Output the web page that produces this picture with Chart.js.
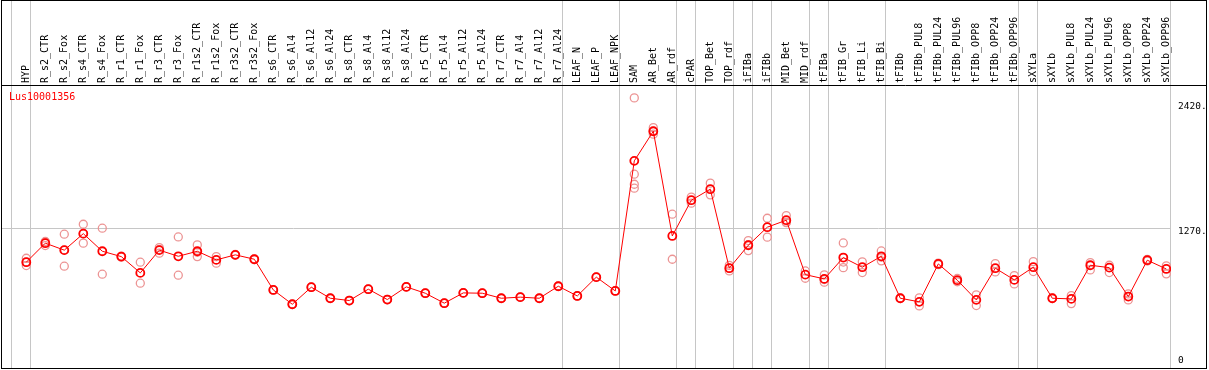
<!DOCTYPE html>
<html lang="en">
<head>
<meta charset="UTF-8" />
<title>Lus10001356</title>
<script src="https://cdn.jsdelivr.net/npm/chart.js"></script>
<style>
    html, body { margin: 0; padding: 0; background: #fff; }
    #chartContainer { width: 1209px; height: 370px; }
</style>
</head>
<body>

<div id="chartContainer">
    <canvas id="myChart" width="1209" height="370"></canvas>
</div>

<script>
    // gene id shown in the corner
    const title = 'Lus10001356';

    const categories = [
        'HYP', 'R_s2_CTR', 'R_s2_Fox', 'R_s4_CTR', 'R_s4_Fox', 'R_r1_CTR', 'R_r1_Fox',
        'R_r3_CTR', 'R_r3_Fox', 'R_r1s2_CTR', 'R_r1s2_Fox', 'R_r3s2_CTR', 'R_r3s2_Fox',
        'R_s6_CTR', 'R_s6_Al4', 'R_s6_Al12', 'R_s6_Al24', 'R_s8_CTR', 'R_s8_Al4',
        'R_s8_Al12', 'R_s8_Al24', 'R_r5_CTR', 'R_r5_Al4', 'R_r5_Al12', 'R_r5_Al24',
        'R_r7_CTR', 'R_r7_Al4', 'R_r7_Al12', 'R_r7_Al24', 'LEAF_N', 'LEAF_P', 'LEAF_NPK',
        'SAM', 'AR_Bet', 'AR_rdf', 'cPAR', 'TOP_Bet', 'TOP_rdf', 'iFIBa', 'iFIBb',
        'MID_Bet', 'MID_rdf', 'tFIBa', 'tFIB_Gr', 'tFIB_Li', 'tFIB_Bi', 'tFIBb',
        'tFIBb_PUL8', 'tFIBb_PUL24', 'tFIBb_PUL96', 'tFIBb_OPP8', 'tFIBb_OPP24', 'tFIBb_OPP96',
        'sXYLa', 'sXYLb', 'sXYLb_PUL8', 'sXYLb_PUL24', 'sXYLb_PUL96', 'sXYLb_OPP8',
        'sXYLb_OPP24', 'sXYLb_OPP96'
    ];

    // mean expression per sample (the connected line)
    const means = [
        959, 1133, 1069, 1220, 1059, 1010, 861, 1069, 1013, 1059, 980, 1026, 986,
        705, 574, 730, 629, 608, 712, 617, 733, 675, 584, 678,
        675, 629, 639, 629, 739, 650, 822, 696,
        1886, 2157, 1199, 1526, 1627, 904, 1114, 1279, 1343, 845, 806, 1001, 913, 1013,
        629, 596, 943, 794, 614, 904, 797, 913, 629, 623, 931, 909, 644, 977, 897
    ];

    // individual replicates (light circles)
    const replicates = [
        [995, 928, 960], [1140, 1111, 1148], [1215, 922, 1070], [1306, 1133, 1220],
        [1270, 849], [1015, 1005], [959, 767], [1092, 1041, 1074], [1190, 840],
        [1117, 1010, 1050], [1010, 950], [1030, 1022], [990, 982],
        [707, 703], [576, 572], [732, 728], [631, 627], [610, 606], [714, 710],
        [619, 615], [735, 731], [677, 673], [586, 582], [680, 676],
        [677, 673], [631, 627], [641, 637], [631, 627], [741, 737], [652, 648],
        [824, 820], [698, 694],
        [2462, 1764, 1672, 1636], [2190, 2130, 2157], [1398, 986], [1554, 1499],
        [1682, 1575], [879, 904, 930], [1157, 1065, 1120], [1361, 1188],
        [1385, 1325, 1320], [879, 812], [843, 776, 800], [1135, 909, 960],
        [962, 864], [1062, 971, 1005], [632, 626], [559, 633], [950, 936],
        [810, 780], [660, 562], [946, 870], [836, 760], [964, 873], [632, 626],
        [653, 580], [955, 888], [931, 864], [669, 614], [985, 970], [925, 852]
    ];

    // group separators sit just after these category indices
    const separatorsAfter = [-1, 0, 28, 31, 34, 35, 37, 38, 39, 41, 42, 45, 52, 53, 60];

    const yTicks = [0, 1270, 2420];
    const yLabels = ['0', '1270.', '2420.'];
    const yMax = 2580;

    const MONO = '"DejaVu Sans Mono", "Liberation Mono", monospace';

    // header labels, separators, frame and right-hand value labels
    const framePlugin = {
        id: 'frame',
        beforeDraw(chart) {
            const c = chart.ctx;
            c.save();
            c.fillStyle = '#ffffff';
            c.fillRect(0, 0, chart.width, chart.height);
            c.restore();
        },
        beforeDatasetsDraw(chart) {
            const c = chart.ctx;
            const x = chart.scales.x;
            const y = chart.scales.y;
            c.save();

            c.strokeStyle = '#c6c6c6';
            c.lineWidth = 1;
            separatorsAfter.forEach(i => {
                const px = Math.round(x.getPixelForValue(i + 0.22)) + 0.5;
                c.beginPath();
                c.moveTo(px, 1);
                c.lineTo(px, 368);
                c.stroke();
            });

            c.fillStyle = '#000000';
            c.font = '10px ' + MONO;
            c.textAlign = 'left';
            c.textBaseline = 'middle';
            categories.forEach((name, i) => {
                c.save();
                c.translate(x.getPixelForValue(i), 83);
                c.rotate(-Math.PI / 2);
                c.fillText(name, 0, 0);
                c.restore();
            });

            c.fillStyle = '#ff0000';
            c.font = '10px ' + MONO;
            c.textBaseline = 'middle';
            c.fillText(title, 9, 97);

            c.fillStyle = '#000000';
            c.font = '9.5px ' + MONO;
            c.textBaseline = 'top';
            yTicks.forEach((v, k) => {
                const py = Math.min(y.getPixelForValue(v) - 1, 356);
                c.fillText(yLabels[k], 1178, py);
            });

            c.restore();
        },
        afterDraw(chart) {
            const c = chart.ctx;
            c.save();
            c.strokeStyle = '#000000';
            c.lineWidth = 1;
            c.strokeRect(1.5, 0.5, 1205, 368);
            c.beginPath();
            c.moveTo(1, 85.5);
            c.lineTo(1207, 85.5);
            c.stroke();
            c.restore();
        }
    };

    const ctx = document.getElementById('myChart').getContext('2d');

    new Chart(ctx, {
        type: 'line',
        data: {
            datasets: [{
                label: 'mean',
                data: means.map((v, i) => ({ x: i, y: v })),
                borderColor: '#ff0000',
                borderWidth: 1,
                tension: 0,
                pointRadius: 4,
                pointBorderWidth: 1.8,
                pointBorderColor: '#ff0000',
                pointBackgroundColor: 'rgba(0,0,0,0)',
                order: 0
            }, {
                label: 'replicates',
                data: replicates.flatMap((r, i) => r.map(v => ({ x: i, y: v }))),
                showLine: false,
                pointRadius: 4,
                pointBorderWidth: 1.3,
                pointBorderColor: '#ec9494',
                pointBackgroundColor: 'rgba(0,0,0,0)',
                order: 1
            }]
        },
        options: {
            responsive: false,
            animation: false,
            events: [],
            layout: {
                autoPadding: false,
                padding: { top: 85, left: 1, right: 0, bottom: 3 }
            },
            plugins: {
                legend: { display: false },
                tooltip: { enabled: false }
            },
            scales: {
                x: {
                    type: 'linear',
                    display: false,
                    min: -1.3316,
                    max: 60.2474
                },
                y: {
                    type: 'linear',
                    position: 'right',
                    min: 0,
                    max: yMax,
                    afterBuildTicks: s => { s.ticks = yTicks.map(v => ({ value: v })); },
                    afterFit: s => { s.width = 38; },
                    ticks: { display: false },
                    border: { display: false },
                    grid: {
                        drawTicks: false,
                        lineWidth: 1,
                        color: c => (c.tick && c.tick.value === 1270) ? '#c6c6c6' : 'rgba(0,0,0,0)'
                    }
                }
            }
        },
        plugins: [framePlugin]
    });
</script>

</body>
</html>
